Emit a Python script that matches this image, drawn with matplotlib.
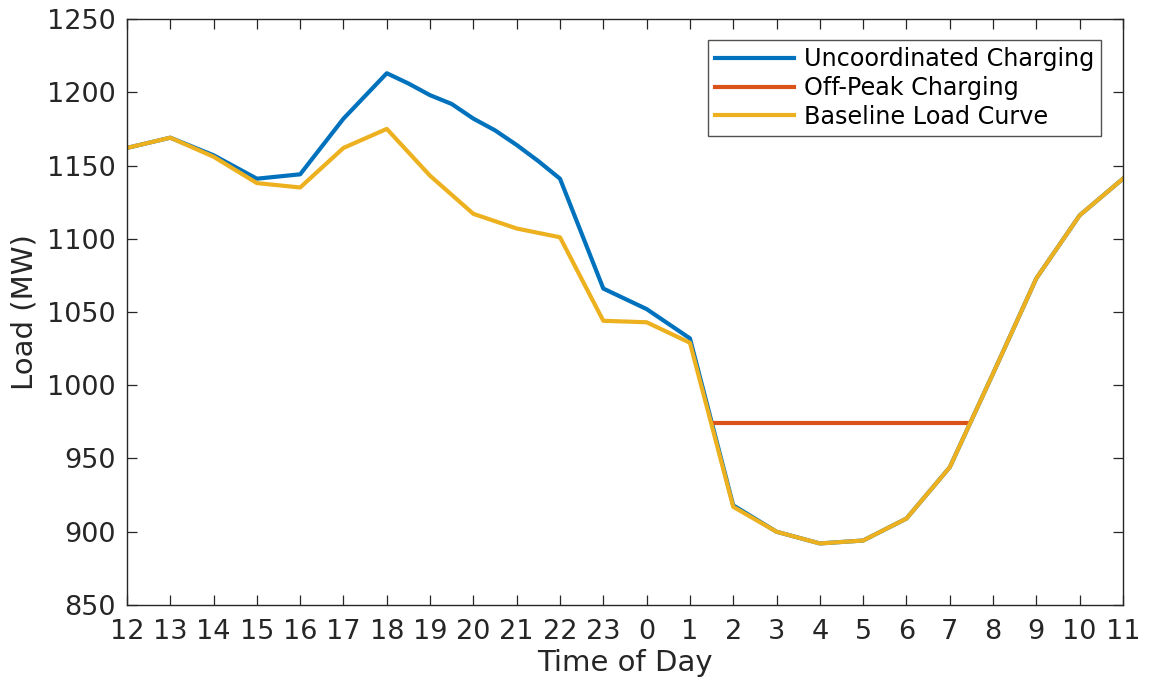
import numpy as np
import matplotlib
matplotlib.use("Agg")
import matplotlib.pyplot as plt

# hour labels along the x axis (noon to 11 am next day)
hours = [12, 13, 14, 15, 16, 17, 18, 19, 20, 21, 22, 23,
         0, 1, 2, 3, 4, 5, 6, 7, 8, 9, 10, 11]

# baseline load, one value per hour (MW)
baseline = [1162, 1169, 1156, 1138, 1135, 1162, 1175, 1143, 1117, 1107, 1101, 1044,
            1043, 1029, 917, 900, 892, 894, 909, 944, 1008, 1073, 1116, 1141]

# uncoordinated charging, half-hour points in the evening (position = hours after noon)
uncoord_t = [0, 1, 2, 3, 4, 5, 6, 6.5, 7, 7.5, 8, 8.5, 9, 9.5, 10, 11,
             12, 13, 14, 15, 16, 17, 18, 19, 20, 21, 22, 23]
uncoord = [1162, 1169, 1157, 1141, 1144, 1182, 1213, 1206, 1198, 1192, 1182, 1174,
           1164, 1153, 1141, 1066, 1052, 1032, 918, 900, 892, 894, 909, 944,
           1008, 1073, 1116, 1141]

# off-peak charging fills the night valley at a flat level
offpeak_t = [13.5, 19.45]
offpeak = [974, 974]

yticks = np.arange(850, 1251, 50)

c_blue = "#0072BD"
c_red = "#D95319"
c_yel = "#EDB120"
c_ax = "#262626"

plt.rcParams["font.family"] = "DejaVu Sans"

fig = plt.figure(figsize=(11.52, 6.87), dpi=100)
ax = fig.add_axes([0.1102, 0.1194, 0.8646, 0.8529])

x = np.arange(len(hours))
ax.plot(uncoord_t, uncoord, color=c_blue, lw=3, label="Uncoordinated Charging")
ax.plot(offpeak_t, offpeak, color=c_red, lw=3, label="Off-Peak Charging")
ax.plot(x, baseline, color=c_yel, lw=3, label="Baseline Load Curve")

ax.set_xlim(0, len(hours) - 1)
ax.set_ylim(850, 1250)
ax.set_xticks(x)
ax.set_xticklabels([str(h) for h in hours])
ax.set_yticks(yticks)

ax.tick_params(direction="in", length=7, width=0.9, top=True, right=True,
               labelsize=19.5, colors=c_ax)
ax.tick_params(axis="x", pad=10)
ax.tick_params(axis="y", pad=8)
for s in ax.spines.values():
    s.set_color(c_ax)
    s.set_linewidth(1.0)

ax.set_xlabel("Time of Day", fontsize=21, color=c_ax, labelpad=3)
ax.set_ylabel("Load (MW)", fontsize=21, color=c_ax, labelpad=6)

leg = ax.legend(loc="upper right", bbox_to_anchor=(0.978, 0.964), fontsize=17.2,
                frameon=True, fancybox=False, handlelength=3.3, handletextpad=0.4,
                borderpad=0.3, labelspacing=0.2, borderaxespad=0)
leg.get_frame().set_edgecolor(c_ax)
leg.get_frame().set_linewidth(1.0)

fig.savefig("out.png", dpi=100)
